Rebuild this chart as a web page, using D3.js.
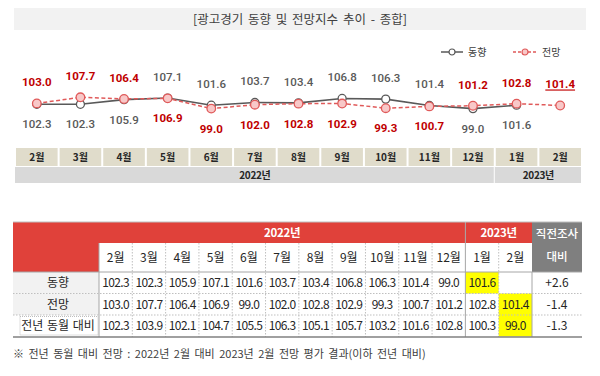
<!DOCTYPE html>
<html>
<head>
<meta charset="utf-8">
<script src="https://cdn.jsdelivr.net/npm/d3@7"></script>
<style>
  body { margin: 0; background: #fff; }
  svg { display: block; font-family: "Noto Sans CJK KR", "Noto Sans", sans-serif; }
</style>
</head>
<body>
<div id="chart"></div>
<script>
// months along the x axis (2022-02 .. 2023-02)
const months = ['2월', '3월', '4월', '5월', '6월', '7월', '8월', '9월', '10월', '11월', '12월', '1월', '2월']
const years = [{ label: '2022년', from: 0, to: 10 }, { label: '2023년', from: 11, to: 12 }]
// 동향 has no value for 2023-02
const trend = [102.3, 102.3, 105.9, 107.1, 101.6, 103.7, 103.4, 106.8, 106.3, 101.4, 99.0, 101.6, null]
const outlook = [103.0, 107.7, 106.4, 106.9, 99.0, 102.0, 102.8, 102.9, 99.3, 100.7, 101.2, 102.8, 101.4]
const yoy = [102.3, 103.9, 102.1, 104.7, 105.5, 106.3, 105.1, 105.7, 103.2, 101.6, 102.8, 100.3, 99.0]
const diffs = ['+2.6', '-1.4', '-1.3']
const rowNames = ['동향', '전망', '전년 동월 대비']
// highlighted table cells [row, col]
const highlights = [[0, 11], [1, 12], [2, 12]]

const W = 600, H = 376
const RED = '#c00000', GRAY = '#595959', LINE_RED = '#e05a5a'

const svg = d3.select('#chart').append('svg')
    .attr('width', W)
    .attr('height', H)

// title bar
svg.append('rect')
    .attr('x', 14).attr('y', 8).attr('width', 572).attr('height', 22)
    .attr('fill', '#f2f2f2')
svg.append('text')
    .attr('x', 300).attr('y', 23.5)
    .attr('text-anchor', 'middle')
    .attr('font-size', 12.5)
    .attr('fill', '#404040')
    .attr('word-spacing', 2)
    .text('[광고경기 동향 및 전망지수 추이 - 종합]')

// legend
const legend = svg.append('g').attr('transform', 'translate(441,52)')
legend.append('line').attr('x1', 0).attr('x2', 22).attr('stroke', GRAY).attr('stroke-width', 1.5)
legend.append('circle').attr('cx', 11).attr('r', 3).attr('fill', '#fff').attr('stroke', GRAY).attr('stroke-width', 1.2)
legend.append('text').attr('x', 27).attr('y', 4).attr('font-size', 10).attr('fill', '#404040').text('동향')
legend.append('line').attr('x1', 72).attr('x2', 96).attr('stroke', LINE_RED).attr('stroke-width', 1.5).attr('stroke-dasharray', '3,2')
legend.append('circle').attr('cx', 84).attr('r', 3).attr('fill', '#f8c8c8').attr('stroke', LINE_RED).attr('stroke-width', 1.2)
legend.append('text').attr('x', 101).attr('y', 4).attr('font-size', 10).attr('fill', '#404040').text('전망')

// x scale: month bands
const x = d3.scaleBand()
    .domain(d3.range(months.length))
    .range([15, 582])
    .paddingInner(0)

const y = d3.scaleLinear()
    .domain([90, 115])
    .range([120.3, 87.8])

const cx = i => x(i) + x.bandwidth() / 2

// lines
const trendLine = d3.line()
    .defined(d => d != null)
    .x((d, i) => cx(i))
    .y(d => y(d))

svg.append('path')
    .datum(trend)
    .attr('d', trendLine)
    .attr('fill', 'none')
    .attr('stroke', GRAY)
    .attr('stroke-width', 1.6)

svg.append('path')
    .datum(outlook)
    .attr('d', trendLine)
    .attr('fill', 'none')
    .attr('stroke', LINE_RED)
    .attr('stroke-width', 1.5)
    .attr('stroke-dasharray', '4,2.5')

svg.selectAll('.pt-trend')
    .data(trend.map((v, i) => ({ v, i })).filter(d => d.v != null))
    .join('circle')
    .attr('class', 'pt-trend')
    .attr('cx', d => cx(d.i))
    .attr('cy', d => y(d.v))
    .attr('r', 4)
    .attr('fill', '#fff')
    .attr('stroke', GRAY)
    .attr('stroke-width', 1.3)

svg.selectAll('.pt-outlook')
    .data(outlook.map((v, i) => ({ v, i })))
    .join('circle')
    .attr('class', 'pt-outlook')
    .attr('cx', d => cx(d.i))
    .attr('cy', d => y(d.v))
    .attr('r', 4.3)
    .attr('fill', '#f8c8c8')
    .attr('stroke', LINE_RED)
    .attr('stroke-width', 1.3)

// value labels: higher value above, lower below
const labels = []
months.forEach((m, i) => {
    const t = trend[i], o = outlook[i]
    if (t == null) {
        labels.push({ i, v: o, red: true, above: true, underline: true })
        return
    }
    const outlookUp = o > t
    labels.push({ i, v: o, red: true, above: outlookUp })
    labels.push({ i, v: t, red: false, above: !outlookUp })
})

const lbl = svg.selectAll('.val')
    .data(labels)
    .join('text')
    .attr('class', 'val')
    .attr('x', d => cx(d.i))
    .attr('y', d => y(d.v) + (d.above ? -17 : 24))
    .attr('text-anchor', 'middle')
    .attr('font-size', 11.5)
    .attr('font-family', 'Roboto, "Noto Sans", sans-serif')
    .attr('font-weight', d => d.red ? 700 : 500)
    .attr('fill', d => d.red ? RED : GRAY)
    .attr('text-decoration', d => d.underline ? 'underline' : null)
    .text(d => d.v.toFixed(1))

// month row
const monthCells = svg.append('g')
monthCells.selectAll('rect')
    .data(months)
    .join('rect')
    .attr('x', (d, i) => x(i) + 1)
    .attr('y', 148)
    .attr('width', x.bandwidth() - 2)
    .attr('height', 18)
    .attr('fill', '#e0dccb')
monthCells.selectAll('text')
    .data(months)
    .join('text')
    .attr('x', (d, i) => cx(i))
    .attr('y', 161)
    .attr('text-anchor', 'middle')
    .attr('font-size', 10)
    .attr('font-weight', 700)
    .attr('fill', '#262626')
    .text(d => d)

// year row
const yearCells = svg.append('g')
yearCells.selectAll('rect')
    .data(years)
    .join('rect')
    .attr('x', d => x(d.from))
    .attr('y', 167)
    .attr('width', d => x(d.to) + x.bandwidth() - x(d.from) - 1)
    .attr('height', 16)
    .attr('fill', '#d9d9d9')
yearCells.selectAll('text')
    .data(years)
    .join('text')
    .attr('x', d => (x(d.from) + x(d.to) + x.bandwidth()) / 2)
    .attr('y', 179)
    .attr('text-anchor', 'middle')
    .attr('font-size', 10)
    .attr('font-weight', 700)
    .attr('fill', '#262626')
    .attr('letter-spacing', -0.3)
    .text(d => d.label)

// ---------- table ----------
const tX = 13, tLabelW = 86, tRight = 582, tLastW = 50
const col = d3.scaleBand()
    .domain(d3.range(months.length))
    .range([tX + tLabelW, tRight - tLastW])
const rowY = [272, 293.5, 315]
const rowH = 21.5
const tTop = 222, tHead1 = 243, tBottom = 337

const table = svg.append('g')

// header backgrounds
table.append('rect').attr('x', tX).attr('y', tTop).attr('width', tLabelW).attr('height', rowY[0] - tTop).attr('fill', '#e0413a')
table.append('rect').attr('x', col(0)).attr('y', tTop).attr('width', col(11) - col(0)).attr('height', tHead1 - tTop).attr('fill', '#e0413a')
table.append('rect').attr('x', col(11)).attr('y', tTop).attr('width', col.bandwidth() * 2).attr('height', tHead1 - tTop).attr('fill', '#e0413a')
table.append('rect').attr('x', tRight - tLastW).attr('y', tTop).attr('width', tLastW).attr('height', rowY[0] - tTop).attr('fill', '#7f7f7f')

// row label backgrounds
table.selectAll('.rowbg')
    .data(rowNames)
    .join('rect')
    .attr('class', 'rowbg')
    .attr('x', tX)
    .attr('y', (d, i) => rowY[i])
    .attr('width', tLabelW)
    .attr('height', rowH)
    .attr('fill', (d, i) => i < 2 ? '#f2f2f2' : '#fff')
table.append('rect')
    .attr('x', tX + 7).attr('y', rowY[2] + 1.5)
    .attr('width', tLabelW - 8).attr('height', rowH - 3)
    .attr('fill', 'none').attr('stroke', '#bfbfbf').attr('stroke-dasharray', '1,1')

// yellow highlights
table.selectAll('.hl')
    .data(highlights)
    .join('rect')
    .attr('class', 'hl')
    .attr('x', d => col(d[1]))
    .attr('y', d => rowY[d[0]])
    .attr('width', col.bandwidth())
    .attr('height', rowH)
    .attr('fill', '#ffff00')

// header text
years.forEach(yr => {
    table.append('text')
        .attr('x', (col(yr.from) + col(yr.to) + col.bandwidth()) / 2)
        .attr('y', 237)
        .attr('text-anchor', 'middle')
        .attr('font-size', 11.5)
        .attr('font-weight', 700)
        .attr('fill', '#fff')
        .attr('letter-spacing', -0.3)
        .text(yr.label)
})
table.append('text').attr('x', tRight - tLastW / 2).attr('y', 238).attr('text-anchor', 'middle')
    .attr('font-size', 11.5).attr('font-weight', 500).attr('fill', '#fff').text('직전조사')
table.append('text').attr('x', tRight - tLastW / 2).attr('y', 261).attr('text-anchor', 'middle')
    .attr('font-size', 11.5).attr('font-weight', 500).attr('fill', '#fff').text('대비')

table.selectAll('.mh')
    .data(months)
    .join('text')
    .attr('class', 'mh')
    .attr('x', (d, i) => col(i) + col.bandwidth() / 2)
    .attr('y', 262)
    .attr('text-anchor', 'middle')
    .attr('font-size', 12)
    .attr('fill', '#262626')
    .text(d => d)

// grid lines
const vlines = d3.range(1, months.length).map(i => col(i))
table.selectAll('.vl')
    .data(vlines)
    .join('line')
    .attr('class', 'vl')
    .attr('x1', d => d).attr('x2', d => d)
    .attr('y1', (d, i) => (i === 10 ? tTop : tHead1))
    .attr('y2', tBottom)
    .attr('stroke', (d, i) => (i === 10 ? '#a6a6a6' : '#bfbfbf'))
    .attr('stroke-dasharray', (d, i) => (i === 10 ? null : '1.5,1.5'))
table.append('line').attr('x1', col(0)).attr('x2', col(0)).attr('y1', tHead1).attr('y2', tBottom).attr('stroke', '#a6a6a6')
table.append('line').attr('x1', tRight - tLastW).attr('x2', tRight - tLastW).attr('y1', rowY[0]).attr('y2', tBottom).attr('stroke', '#a6a6a6')

table.append('line').attr('x1', tX).attr('x2', tRight).attr('y1', rowY[0]).attr('y2', rowY[0]).attr('stroke', '#a6a6a6')
table.selectAll('.hl2')
    .data([rowY[1], rowY[2]])
    .join('line')
    .attr('x1', tX).attr('x2', tRight)
    .attr('y1', d => d).attr('y2', d => d)
    .attr('stroke', '#bfbfbf')
    .attr('stroke-dasharray', '1.5,1.5')
table.append('line').attr('x1', tX).attr('x2', tRight).attr('y1', tBottom).attr('y2', tBottom).attr('stroke', '#808080').attr('stroke-width', 1.3)
table.append('line').attr('x1', tX).attr('x2', tRight).attr('y1', tTop).attr('y2', tTop).attr('stroke', '#bfbfbf')

// row labels
table.selectAll('.rl')
    .data(rowNames)
    .join('text')
    .attr('class', 'rl')
    .attr('x', tX + tLabelW / 2 + 2)
    .attr('y', (d, i) => rowY[i] + 15)
    .attr('text-anchor', 'middle')
    .attr('font-size', 12)
    .attr('fill', '#262626')
    .attr('word-spacing', 1)
    .text(d => d)

// cell values
const rows = [trend, outlook, yoy]
rows.forEach((r, ri) => {
    table.selectAll('.c' + ri)
        .data(r.map((v, i) => ({ v, i })).filter(d => d.v != null))
        .join('text')
        .attr('x', d => col(d.i) + col.bandwidth() / 2)
        .attr('y', rowY[ri] + 15)
        .attr('text-anchor', 'middle')
        .attr('font-size', 12)
        .attr('letter-spacing', -0.6)
        .attr('fill', '#262626')
        .text(d => d.v.toFixed(1))
})
table.selectAll('.diff')
    .data(diffs)
    .join('text')
    .attr('x', tRight - tLastW / 2)
    .attr('y', (d, i) => rowY[i] + 15)
    .attr('text-anchor', 'middle')
    .attr('font-size', 12)
    .attr('fill', '#262626')
    .text(d => d)

// footnote
svg.append('text')
    .attr('x', 13).attr('y', 358)
    .attr('font-size', 11)
    .attr('fill', '#404040')
    .attr('word-spacing', 2)
    .text('※ 전년 동월 대비 전망 : 2022년 2월 대비 2023년 2월 전망 평가 결과(이하 전년 대비)')
</script>
</body>
</html>
